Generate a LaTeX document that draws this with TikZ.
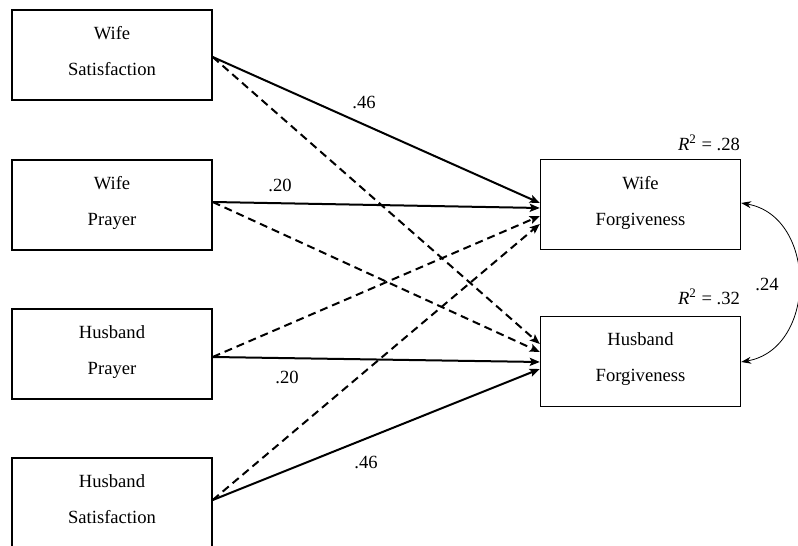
\documentclass[tikz,border=0pt]{standalone}
\usepackage{fontspec}
\setmainfont{Liberation Serif}
\usetikzlibrary{arrows.meta}

\tikzset{
  var/.style={draw, line width=0.7pt, minimum width=100pt, minimum height=45pt,
    inner sep=0pt, align=center, text depth=4pt, font=\fontsize{9.3}{18}\selectfont},
  sig/.style={line width=1pt, -{Stealth[length=5pt,width=4pt,inset=1pt]}},
  nonsig/.style={sig, dash pattern=on 4pt off 2.5pt},
  coef/.style={inner sep=0pt, font=\fontsize{9.3}{11}\selectfont}
}

\begin{document}
\begin{tikzpicture}[x=0.5pt,y=0.5pt]
\useasboundingbox (0,0) rectangle (798,546);
% predictors
\node[var] (ws) at (112,491) {Wife\\Satisfaction};
\node[var] (wp) at (112,341) {Wife\\Prayer};
\node[var] (hp) at (112,192) {Husband\\Prayer};
\node[var] (hs) at (112,43) {Husband\\Satisfaction};
% outcomes
\node[var] (wf) at (640.5,341.5) {Wife\\Forgiveness};
\node[var] (hf) at (640.5,184.5) {Husband\\Forgiveness};
% paths
\draw[sig] ([yshift=-1pt]ws.east) -- ([yshift=0.75pt]wf.west);
\draw[sig] ([yshift=1.5pt]wp.east) -- ([yshift=-1.75pt]wf.west);
\draw[sig] ([yshift=-1.5pt]hp.east) -- ([yshift=-0.25pt]hf.west);
\draw[sig] ([yshift=1.5pt]hs.east) -- ([yshift=-3.75pt]hf.west);
\draw[nonsig] ([yshift=-1pt]ws.east) -- ([yshift=8.75pt]hf.west);
\draw[nonsig] ([yshift=1.5pt]wp.east) -- ([yshift=4.75pt]hf.west);
\draw[nonsig] ([yshift=-1.5pt]hp.east) -- ([yshift=-5.75pt]wf.west);
\draw[nonsig] ([yshift=1.5pt]hs.east) -- ([yshift=-9.75pt]wf.west);
% correlation
\draw[line width=0.4pt, {Stealth[length=5pt,width=3.5pt]}-{Stealth[length=5pt,width=3.5pt]}]
  ([yshift=0.75pt]wf.east) to[out=-10,in=10,looseness=1.25] ([yshift=-0.25pt]hf.east);
% labels
\node[coef] (c1) at (364,444) {.46};
\node[coef] (c2) at (280,361) {.20};
\node[coef] (c3) at (287,169) {.20};
\node[coef] (c4) at (366,84) {.46};
\node[coef] (c5) at (767,262) {.24};
\node[coef] (r1) at (709,403) {\textit{R}\textsuperscript{2} = .28};
\node[coef] (r2) at (709,249) {\textit{R}\textsuperscript{2} = .32};
\end{tikzpicture}
\end{document}
